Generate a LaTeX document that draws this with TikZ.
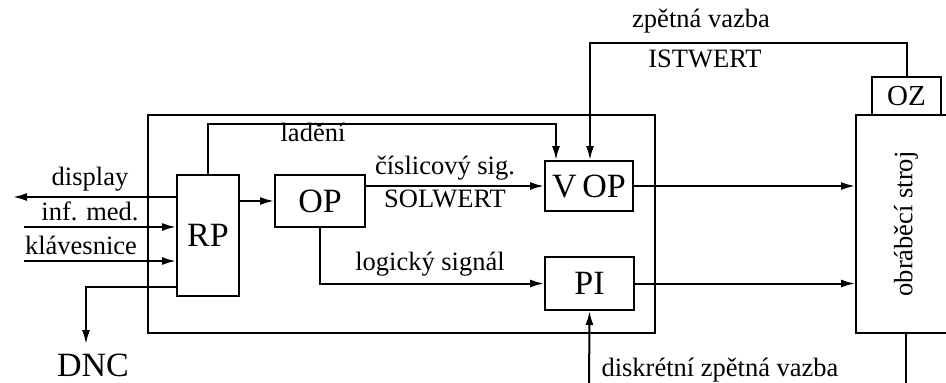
\documentclass[tikz,border=0pt]{standalone}
\usepackage{fontspec}
\setmainfont{Liberation Serif}
\usetikzlibrary{arrows.meta, positioning}

\begin{document}
\begin{tikzpicture}[
    x=1pt, y=-1pt,
    line width=2pt,
    blok/.style={draw, line width=2pt, inner sep=0pt, font=\fontsize{34}{34}\selectfont},
    popis/.style={inner sep=0pt, font=\fontsize{26.5}{26.5}\selectfont},
    arr/.style={-{Latex[length=14pt,width=8pt]}},
  ]
    \useasboundingbox (0,0) rectangle (946,383);

    \node[draw, minimum width=507pt, minimum height=218pt] (ridici) at (401.5,224) {};
    \node[blok, minimum width=62pt, minimum height=121pt] (rp) at (208,235.5) {RP};
    \node[blok, minimum width=90pt, minimum height=52pt] (op) at (320,201) {OP};
    \node[blok, minimum width=88pt, minimum height=50pt] (vop) at (589,186) {V\,OP};
    \node[blok, minimum width=89pt, minimum height=53pt] (pi) at (589.5,283.5) {PI};
    \node[blok, minimum width=100pt, minimum height=218pt] (stroj) at (906,224) {};
    \node[popis, rotate=90] (strojtxt) at (stroj.center) {obráběcí stroj};
    \node[blok, minimum width=69pt, minimum height=38pt, font=\fontsize{29}{29}\selectfont] (oz) at (906.5,96) {OZ};
    \node[blok, draw=none] (dnc) at (93,365) {DNC};

    \coordinate (disp) at (13,197);
    \coordinate (infmed) at (24,227);
    \coordinate (klav) at (24,261);
    \coordinate (dncroh) at (86,287);
    \coordinate (lad) at (556,124);
    \coordinate (zpet) at (590,43);
    \coordinate (diskr) at (589,395);
    \coordinate (strojdol) at (906,395);

    % vstupy a vystupy RP
    \draw[arr] (rp.west |- disp) -- (disp);
    \draw[arr] (infmed) -- (rp.west |- infmed);
    \draw[arr] (klav) -- (rp.west |- klav);
    \draw[arr] (rp.west |- dncroh) -- (dncroh) -- (dncroh |- 0,344);
    \draw[arr] (rp.east |- op.west) -- (op.west);
    \draw[arr] (rp.north) |- (lad) -- (lad |- vop.north);
    \draw[arr] (op.east |- vop.west) -- (vop.west);
    \draw[arr] (op.south) |- (pi.west);
    \draw[arr] (vop.east) -- (vop.east -| stroj.west);
    \draw[arr] (pi.east) -- (pi.east -| stroj.west);
    \draw[arr] (oz.north) |- (zpet) -- (zpet |- vop.north);
    \draw[arr] (diskr) -- (pi.south);
    \draw (stroj.south) -- (strojdol);

    \node[popis] (ldisp) at (90,179) {display};
    \node[popis] (linf) at (90,211) {inf. med.};
    \node[popis] (lklav) at (81,245) {klávesnice};
    \node[popis] (llad) at (313,132) {ladění};
    \node[popis] (lcis) at (445,168) {číslicový sig.};
    \node[popis] (lsol) at (445,199) {SOLWERT};
    \node[popis] (llog) at (430,264) {logický signál};
    \node[popis] (lzpet) at (701,21) {zpětná vazba};
    \node[popis] (list) at (705,59) {ISTWERT};
    \node[popis] (ldiskr) at (720,370) {diskrétní zpětná vazba};
  \end{tikzpicture}
\end{document}
